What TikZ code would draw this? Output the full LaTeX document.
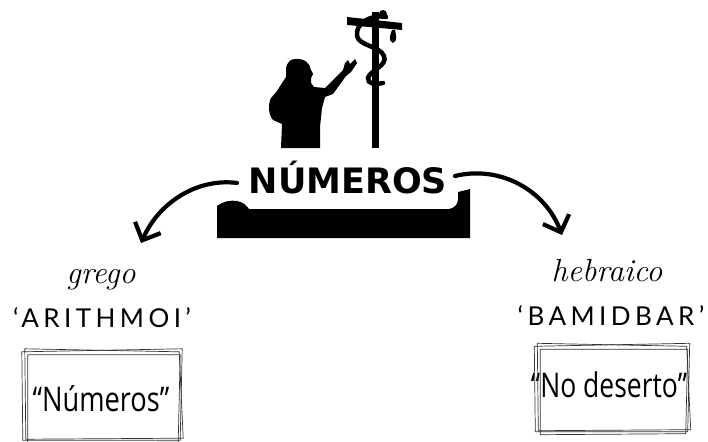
\documentclass[tikz,border=0pt]{standalone}
\usepackage{fontspec}
\usetikzlibrary{calc,arrows.meta}
\newfontfamily\titlefont{DejaVu Sans}
\newfontfamily\capsfont{Lato}[LetterSpace=17]
\newfontfamily\bodyfont{Open Sans}

\tikzset{
  brush/.style={line width=4.2pt, line cap=round, -{Straight Barb[length=14pt,width=28pt,line width=4.2pt]}},
  sketch/.style={draw=black!80, line width=0.7pt, line join=round},
  scriptlabel/.style={font=\fontsize{32}{34}\selectfont\itshape, inner sep=0pt, anchor=base},
  capslabel/.style={font=\capsfont\fontsize{26}{28}\selectfont, inner sep=0pt, anchor=base},
  meaning/.style={font=\bodyfont\fontsize{34}{36}\selectfont, inner sep=0pt, anchor=base},
  frame/.style={minimum width=#1, inner sep=0pt, draw=none},
}

\begin{document}
\begin{tikzpicture}[x=1pt,y=-1pt]
\useasboundingbox (0,0) rectangle (708,441);
\fill[white] (0,0) rectangle (708,441);

% --- silhouette: man reaching towards the pole with the serpent ---
\fill[black]
  (295,59) .. controls (304,58) and (310,63) .. (311,70)
  -- (313,74) -- (311,78) -- (311,83) -- (314,87) -- (325,88)
  -- (343,70) -- (345,63) -- (348,60) -- (350,64) -- (355,59) -- (357,63)
  -- (351,72) -- (346,76) -- (333,94) -- (325,97)
  -- (322,108) -- (320,127) -- (320,148) -- (281,148)
  -- (282,124) -- (273,120) .. controls (268,114) and (268,104) .. (271,98)
  -- (277,91) -- (282,83) -- (286,77) -- (286,68)
  .. controls (287,63) and (290,59) .. (295,59) -- cycle;
% pole and crossbar
\fill[black] (372,12) rectangle (379,148);
\fill[black] (347,17) -- (402,23) -- (402,30) -- (347,25) -- cycle;
% serpent coiled on the pole
\draw[black, line width=4.5pt, line cap=round]
  (386,17) .. controls (370,14) and (355,24) .. (357,36)
  .. controls (359,46) and (380,46) .. (384,56)
  .. controls (388,66) and (370,70) .. (368,78)
  .. controls (367,84) and (376,85) .. (383,83);
\fill[black] (383,14) circle (4);
\fill[black] (392,30) -- (395,30) .. controls (396,36) and (398,40) .. (393,43)
  .. controls (388,41) and (390,35) .. (392,30) -- cycle;

% --- title on its black base ---
\fill[black]
  (217,206) .. controls (224,201) and (231,200) .. (237,201)
  .. controls (243,202) and (246,205) .. (249,209)
  -- (449,209) .. controls (455,208) and (458,204) .. (458,199)
  -- (458,192) -- (470,189) -- (470,238) -- (217,238) -- cycle;
\node[font=\titlefont\bfseries\fontsize{35}{37}\selectfont, inner sep=0pt, anchor=base]
  (title) at (348,193) {NÚMEROS};

\coordinate (lstart) at (237,183);
\coordinate (ltip) at (141,243);
\coordinate (rstart) at (455,176);
\coordinate (rtip) at (562,235);
\draw[brush] (lstart) .. controls (200,178) and (160,200) .. (ltip);
\draw[brush] (rstart) .. controls (500,165) and (545,190) .. (rtip);

% --- Greek side ---
\node[scriptlabel] (grego) at (101,283) {grego};
\node[capslabel] (arithmoi) at (102,327) {‘ARITHMOI’};
\node[frame=160pt, minimum height=90pt] (lbox) at (102,395) {};
\node[meaning] (numeros) at (101,411) {\scalebox{0.8}[1]{“Números”}};
\draw[sketch] ($(lbox.north west)+(0,2)$) -- ($(lbox.north east)+(0,-1)$)
  -- ($(lbox.south east)+(-2,0)$) -- ($(lbox.south west)+(1,0)$) -- cycle;
\draw[sketch] ($(lbox.north west)+(3,-1)$) -- ($(lbox.north east)+(-3,2)$)
  -- ($(lbox.south east)+(1,-2)$) -- ($(lbox.south west)+(4,-1)$) -- cycle;
\draw[sketch] ($(lbox.north west)+(6,5)$) -- ($(lbox.north east)+(-2,5)$)
  -- ($(lbox.south east)+(-4,2)$) -- ($(lbox.south west)+(6,3)$) -- cycle;

% --- Hebrew side ---
\node[scriptlabel] (hebraico) at (607,281) {hebraico};
\node[capslabel] (bamidbar) at (611,325) {‘BAMIDBAR’};
\node[frame=155pt, minimum height=87pt] (rbox) at (612,388) {};
\node[meaning] (deserto) at (609,397) {\scalebox{0.78}[1]{“No deserto”}};
\draw[sketch] ($(rbox.north west)+(0,2)$) -- ($(rbox.north east)+(0,-1)$)
  -- ($(rbox.south east)+(-2,0)$) -- ($(rbox.south west)+(1,0)$) -- cycle;
\draw[sketch] ($(rbox.north west)+(3,-1)$) -- ($(rbox.north east)+(-3,2)$)
  -- ($(rbox.south east)+(1,-2)$) -- ($(rbox.south west)+(4,-1)$) -- cycle;
\draw[sketch] ($(rbox.north west)+(6,5)$) -- ($(rbox.north east)+(-2,5)$)
  -- ($(rbox.south east)+(-4,2)$) -- ($(rbox.south west)+(6,3)$) -- cycle;
\end{tikzpicture}
\end{document}
